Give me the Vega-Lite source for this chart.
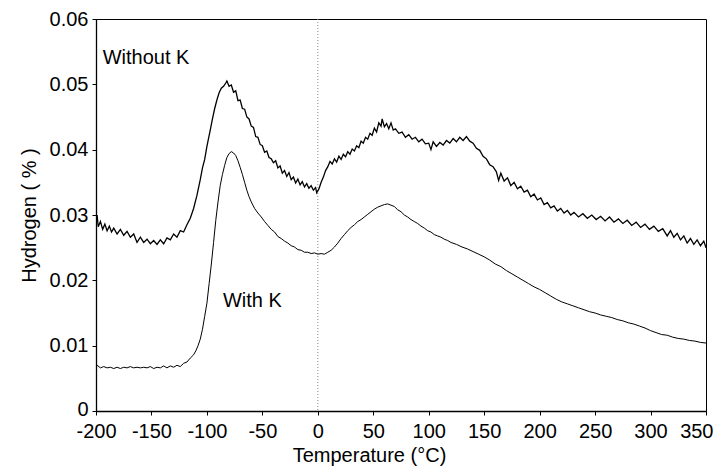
{
  "$schema": "https://vega.github.io/schema/vega-lite/v6.json",
  "width": 610,
  "height": 392,
  "autosize": {"type": "none"},
  "padding": {"left": 96, "top": 19, "right": 15, "bottom": 56},
  "background": "white",
  "config": {
    "view": {"stroke": "black", "strokeWidth": 1},
    "font": "Liberation Sans",
    "axis": {
      "grid": false,
      "domainColor": "black",
      "domainWidth": 1.3,
      "tickColor": "black",
      "labelColor": "black",
      "titleColor": "black",
      "labelFont": "Liberation Sans",
      "titleFont": "Liberation Sans",
      "labelFontSize": 20,
      "titleFontSize": 20,
      "titleFontWeight": "normal"
    }
  },
  "datasets": {
    "without": [
      {"T":-199,"H":0.0300},{"T":-198,"H":0.0282},{"T":-196,"H":0.0290},{"T":-194,"H":0.0278},{"T":-192,"H":0.0286},{"T":-190,"H":0.0276},{"T":-188,"H":0.0283},{"T":-186,"H":0.0274},{"T":-184,"H":0.0280},{"T":-181,"H":0.0271},{"T":-178,"H":0.0278},{"T":-175,"H":0.0269},{"T":-172,"H":0.0275},{"T":-169,"H":0.0266},{"T":-166,"H":0.0271},{"T":-163,"H":0.0258},{"T":-160,"H":0.0266},{"T":-157,"H":0.0258},{"T":-154,"H":0.0263},{"T":-151,"H":0.0256},{"T":-148,"H":0.0261},{"T":-145,"H":0.0255},{"T":-142,"H":0.0262},{"T":-139,"H":0.0256},{"T":-136,"H":0.0265},{"T":-133,"H":0.0262},{"T":-130,"H":0.0271},{"T":-127,"H":0.0266},{"T":-124,"H":0.0276},{"T":-121,"H":0.0274},{"T":-118,"H":0.0285},{"T":-115,"H":0.0295},{"T":-112,"H":0.0310},{"T":-109,"H":0.0330},{"T":-106,"H":0.0354},{"T":-104,"H":0.0372},{"T":-102,"H":0.0385},{"T":-100,"H":0.0405},{"T":-97,"H":0.0430},{"T":-95,"H":0.0447},{"T":-93,"H":0.0463},{"T":-91,"H":0.0476},{"T":-89,"H":0.0487},{"T":-87,"H":0.0494},{"T":-85,"H":0.0497},{"T":-83,"H":0.0502},{"T":-82,"H":0.0505},{"T":-80,"H":0.0497},{"T":-78,"H":0.0499},{"T":-76,"H":0.0488},{"T":-74,"H":0.0490},{"T":-72,"H":0.0475},{"T":-70,"H":0.0476},{"T":-68,"H":0.0463},{"T":-66,"H":0.0462},{"T":-64,"H":0.0450},{"T":-62,"H":0.0447},{"T":-60,"H":0.0436},{"T":-58,"H":0.0434},{"T":-56,"H":0.0420},{"T":-54,"H":0.0419},{"T":-52,"H":0.0408},{"T":-50,"H":0.0406},{"T":-48,"H":0.0396},{"T":-46,"H":0.0398},{"T":-44,"H":0.0388},{"T":-42,"H":0.0386},{"T":-40,"H":0.0380},{"T":-38,"H":0.0383},{"T":-36,"H":0.0372},{"T":-34,"H":0.0375},{"T":-32,"H":0.0364},{"T":-30,"H":0.0368},{"T":-28,"H":0.0359},{"T":-26,"H":0.0365},{"T":-24,"H":0.0354},{"T":-22,"H":0.0358},{"T":-20,"H":0.0349},{"T":-18,"H":0.0355},{"T":-16,"H":0.0346},{"T":-14,"H":0.0351},{"T":-12,"H":0.0343},{"T":-10,"H":0.0348},{"T":-8,"H":0.0341},{"T":-6,"H":0.0345},{"T":-4,"H":0.0338},{"T":-2,"H":0.0342},{"T":-1,"H":0.0334},{"T":1,"H":0.0340},{"T":3,"H":0.0350},{"T":5,"H":0.0358},{"T":7,"H":0.0368},{"T":9,"H":0.0374},{"T":11,"H":0.0382},{"T":13,"H":0.0378},{"T":15,"H":0.0386},{"T":17,"H":0.0381},{"T":19,"H":0.0390},{"T":21,"H":0.0385},{"T":23,"H":0.0393},{"T":25,"H":0.0389},{"T":27,"H":0.0397},{"T":29,"H":0.0393},{"T":31,"H":0.0401},{"T":33,"H":0.0398},{"T":35,"H":0.0406},{"T":37,"H":0.0403},{"T":39,"H":0.0413},{"T":41,"H":0.0410},{"T":43,"H":0.0419},{"T":45,"H":0.0416},{"T":47,"H":0.0425},{"T":49,"H":0.0422},{"T":51,"H":0.0433},{"T":53,"H":0.0427},{"T":55,"H":0.0441},{"T":57,"H":0.0436},{"T":58,"H":0.0447},{"T":60,"H":0.0435},{"T":62,"H":0.0440},{"T":64,"H":0.0432},{"T":66,"H":0.0441},{"T":68,"H":0.0430},{"T":70,"H":0.0432},{"T":73,"H":0.0425},{"T":76,"H":0.0427},{"T":79,"H":0.0419},{"T":82,"H":0.0423},{"T":85,"H":0.0416},{"T":88,"H":0.0419},{"T":91,"H":0.0412},{"T":94,"H":0.0416},{"T":97,"H":0.0409},{"T":100,"H":0.0410},{"T":102,"H":0.0400},{"T":104,"H":0.0412},{"T":107,"H":0.0405},{"T":110,"H":0.0411},{"T":113,"H":0.0407},{"T":116,"H":0.0414},{"T":119,"H":0.0410},{"T":122,"H":0.0417},{"T":125,"H":0.0412},{"T":128,"H":0.0419},{"T":131,"H":0.0414},{"T":134,"H":0.0420},{"T":137,"H":0.0413},{"T":140,"H":0.0410},{"T":143,"H":0.0402},{"T":146,"H":0.0399},{"T":149,"H":0.0390},{"T":152,"H":0.0386},{"T":155,"H":0.0377},{"T":158,"H":0.0374},{"T":161,"H":0.0366},{"T":163,"H":0.0353},{"T":165,"H":0.0364},{"T":168,"H":0.0352},{"T":171,"H":0.0357},{"T":174,"H":0.0345},{"T":177,"H":0.0350},{"T":180,"H":0.0340},{"T":183,"H":0.0344},{"T":186,"H":0.0335},{"T":189,"H":0.0338},{"T":192,"H":0.0328},{"T":195,"H":0.0332},{"T":198,"H":0.0323},{"T":201,"H":0.0326},{"T":204,"H":0.0316},{"T":207,"H":0.0319},{"T":210,"H":0.0311},{"T":213,"H":0.0314},{"T":216,"H":0.0306},{"T":219,"H":0.0310},{"T":222,"H":0.0303},{"T":225,"H":0.0307},{"T":228,"H":0.0300},{"T":231,"H":0.0304},{"T":235,"H":0.0297},{"T":239,"H":0.0302},{"T":243,"H":0.0295},{"T":247,"H":0.0300},{"T":251,"H":0.0293},{"T":255,"H":0.0298},{"T":259,"H":0.0291},{"T":263,"H":0.0297},{"T":267,"H":0.0289},{"T":271,"H":0.0294},{"T":275,"H":0.0287},{"T":279,"H":0.0292},{"T":283,"H":0.0284},{"T":287,"H":0.0289},{"T":291,"H":0.0281},{"T":295,"H":0.0286},{"T":299,"H":0.0278},{"T":303,"H":0.0283},{"T":307,"H":0.0275},{"T":311,"H":0.0279},{"T":315,"H":0.0268},{"T":318,"H":0.0276},{"T":321,"H":0.0266},{"T":324,"H":0.0272},{"T":327,"H":0.0262},{"T":330,"H":0.0268},{"T":333,"H":0.0257},{"T":336,"H":0.0264},{"T":339,"H":0.0255},{"T":342,"H":0.0262},{"T":345,"H":0.0253},{"T":348,"H":0.0260},{"T":350,"H":0.0250}
    ],
    "withk": [
      {"T":-199,"H":0.0070},{"T":-196,"H":0.0066},{"T":-193,"H":0.0068},{"T":-190,"H":0.0066},{"T":-187,"H":0.0067},{"T":-184,"H":0.0065},{"T":-181,"H":0.0067},{"T":-178,"H":0.0065},{"T":-175,"H":0.0067},{"T":-172,"H":0.0066},{"T":-169,"H":0.0068},{"T":-166,"H":0.0066},{"T":-163,"H":0.0067},{"T":-160,"H":0.0066},{"T":-157,"H":0.0067},{"T":-154,"H":0.0066},{"T":-151,"H":0.0068},{"T":-148,"H":0.0065},{"T":-145,"H":0.0067},{"T":-142,"H":0.0066},{"T":-139,"H":0.0069},{"T":-136,"H":0.0066},{"T":-133,"H":0.0069},{"T":-130,"H":0.0067},{"T":-127,"H":0.0070},{"T":-124,"H":0.0068},{"T":-121,"H":0.0073},{"T":-118,"H":0.0075},{"T":-115,"H":0.0081},{"T":-112,"H":0.0086},{"T":-110,"H":0.0092},{"T":-108,"H":0.0100},{"T":-106,"H":0.0110},{"T":-104,"H":0.0125},{"T":-102,"H":0.0145},{"T":-100,"H":0.0165},{"T":-98,"H":0.0195},{"T":-96,"H":0.0225},{"T":-94,"H":0.0258},{"T":-92,"H":0.0292},{"T":-90,"H":0.0320},{"T":-88,"H":0.0345},{"T":-86,"H":0.0362},{"T":-84,"H":0.0376},{"T":-82,"H":0.0388},{"T":-80,"H":0.0394},{"T":-78,"H":0.0397},{"T":-76,"H":0.0395},{"T":-74,"H":0.0391},{"T":-72,"H":0.0383},{"T":-70,"H":0.0373},{"T":-68,"H":0.0362},{"T":-66,"H":0.0350},{"T":-64,"H":0.0338},{"T":-62,"H":0.0328},{"T":-60,"H":0.0320},{"T":-57,"H":0.0310},{"T":-54,"H":0.0303},{"T":-51,"H":0.0297},{"T":-48,"H":0.0290},{"T":-45,"H":0.0284},{"T":-42,"H":0.0278},{"T":-39,"H":0.0274},{"T":-36,"H":0.0267},{"T":-33,"H":0.0264},{"T":-30,"H":0.0260},{"T":-27,"H":0.0257},{"T":-24,"H":0.0253},{"T":-21,"H":0.0251},{"T":-18,"H":0.0247},{"T":-15,"H":0.0246},{"T":-12,"H":0.0243},{"T":-9,"H":0.0243},{"T":-6,"H":0.0241},{"T":-3,"H":0.0242},{"T":0,"H":0.0240},{"T":3,"H":0.0241},{"T":6,"H":0.0240},{"T":9,"H":0.0243},{"T":12,"H":0.0246},{"T":15,"H":0.0251},{"T":18,"H":0.0257},{"T":21,"H":0.0264},{"T":24,"H":0.0270},{"T":27,"H":0.0276},{"T":30,"H":0.0281},{"T":33,"H":0.0285},{"T":36,"H":0.0290},{"T":39,"H":0.0293},{"T":42,"H":0.0297},{"T":45,"H":0.0301},{"T":48,"H":0.0305},{"T":51,"H":0.0309},{"T":54,"H":0.0312},{"T":57,"H":0.0314},{"T":60,"H":0.0316},{"T":63,"H":0.0317},{"T":66,"H":0.0315},{"T":69,"H":0.0313},{"T":72,"H":0.0308},{"T":75,"H":0.0305},{"T":78,"H":0.0300},{"T":81,"H":0.0297},{"T":84,"H":0.0293},{"T":87,"H":0.0290},{"T":90,"H":0.0287},{"T":93,"H":0.0283},{"T":96,"H":0.0280},{"T":99,"H":0.0276},{"T":102,"H":0.0274},{"T":105,"H":0.0270},{"T":108,"H":0.0268},{"T":111,"H":0.0266},{"T":114,"H":0.0263},{"T":117,"H":0.0261},{"T":120,"H":0.0258},{"T":125,"H":0.0255},{"T":130,"H":0.0251},{"T":135,"H":0.0248},{"T":140,"H":0.0244},{"T":145,"H":0.0240},{"T":150,"H":0.0236},{"T":155,"H":0.0231},{"T":160,"H":0.0225},{"T":165,"H":0.0221},{"T":170,"H":0.0215},{"T":175,"H":0.0210},{"T":180,"H":0.0205},{"T":185,"H":0.0200},{"T":190,"H":0.0195},{"T":195,"H":0.0190},{"T":200,"H":0.0186},{"T":205,"H":0.0181},{"T":210,"H":0.0176},{"T":215,"H":0.0171},{"T":220,"H":0.0167},{"T":225,"H":0.0164},{"T":230,"H":0.0161},{"T":235,"H":0.0158},{"T":240,"H":0.0155},{"T":245,"H":0.0152},{"T":250,"H":0.0150},{"T":255,"H":0.0147},{"T":260,"H":0.0145},{"T":265,"H":0.0143},{"T":270,"H":0.0140},{"T":275,"H":0.0138},{"T":280,"H":0.0135},{"T":285,"H":0.0133},{"T":290,"H":0.0130},{"T":295,"H":0.0127},{"T":300,"H":0.0123},{"T":305,"H":0.0120},{"T":310,"H":0.0117},{"T":315,"H":0.0116},{"T":320,"H":0.0113},{"T":325,"H":0.0111},{"T":330,"H":0.0110},{"T":335,"H":0.0108},{"T":340,"H":0.0107},{"T":345,"H":0.0105},{"T":350,"H":0.0104}
    ],
    "labels": [
      {"T": -194, "H": 0.0541, "label": "Without K"},
      {"T": -85.5, "H": 0.0169, "label": "With K"}
    ],
    "zero": [{"T": 0}]
  },
  "layer": [
    {
      "data": {"name": "zero"},
      "mark": {"type": "rule", "color": "#888888", "strokeWidth": 1, "strokeDash": [1, 2]},
      "encoding": {
        "x": {"field": "T", "type": "quantitative", "scale": {"domain": [-200, 350], "nice": false, "zero": false}}
      }
    },
    {
      "data": {"name": "withk"},
      "mark": {"type": "line", "color": "black", "strokeWidth": 1, "interpolate": "linear"},
      "encoding": {
        "x": {"field": "T", "type": "quantitative", "scale": {"domain": [-200, 350], "nice": false, "zero": false},
          "axis": {"values": [-200, -150, -100, -50, 0, 50, 100, 150, 200, 250, 300, 350], "labelExpr": "datum.value < 0 ? '-' + abs(datum.value) : '' + datum.value", "tickSize": 4, "labelPadding": 6, "title": "Temperature (°C)", "titleX": 273, "titlePadding": 4, "labelFlush": false, "labelOverlap": false,
            "labelAlign": {"condition": {"test": "datum.value == 350", "value": "right"}, "value": "center"},
            "labelOffset": {"condition": {"test": "datum.value == 350", "value": 7}, "value": 0}}},
        "y": {"field": "H", "type": "quantitative", "scale": {"domain": [0, 0.06], "nice": false},
          "axis": {"values": [0, 0.01, 0.02, 0.03, 0.04, 0.05, 0.06], "labelExpr": "datum.value == 0 ? '0' : format(datum.value, '.2f')", "tickSize": 4, "labelPadding": 4, "title": "Hydrogen ( % )", "titlePadding": 10, "labelFlush": false,
            "labelOffset": {"condition": {"test": "datum.value == 0", "value": -2}, "value": 0}}}
      }
    },
    {
      "data": {"name": "without"},
      "mark": {"type": "line", "color": "black", "strokeWidth": 1.3, "interpolate": "linear"},
      "encoding": {
        "x": {"field": "T", "type": "quantitative"},
        "y": {"field": "H", "type": "quantitative"}
      }
    },
    {
      "data": {"name": "labels"},
      "mark": {"type": "text", "align": "left", "baseline": "middle", "fontSize": 20, "font": "Liberation Sans", "color": "black"},
      "encoding": {
        "x": {"field": "T", "type": "quantitative"},
        "y": {"field": "H", "type": "quantitative"},
        "text": {"field": "label"}
      }
    }
  ]
}
